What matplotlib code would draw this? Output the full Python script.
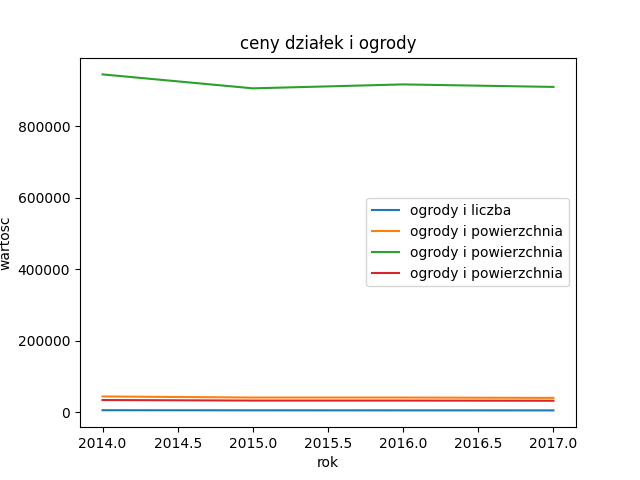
import matplotlib
matplotlib.use('Agg')
import matplotlib.pyplot as plt

lata = [2014, 2015, 2016, 2017]
liczba = [5500, 5200, 5100, 5000]
powierzchnia_1 = [44000, 41000, 41000, 40000]
powierzchnia_2 = [945000, 906000, 917000, 910000]
powierzchnia_3 = [34000, 32500, 32500, 32000]

plt.figure(figsize=(6.4, 4.8), dpi=100)
plt.plot(lata, liczba, label='ogrody i liczba')
plt.plot(lata, powierzchnia_1, label='ogrody i powierzchnia')
plt.plot(lata, powierzchnia_2, label='ogrody i powierzchnia')
plt.plot(lata, powierzchnia_3, label='ogrody i powierzchnia')
plt.title('ceny działek i ogrody')
plt.xlabel('rok')
plt.ylabel('wartosc')
plt.legend()
plt.savefig('out.png')
